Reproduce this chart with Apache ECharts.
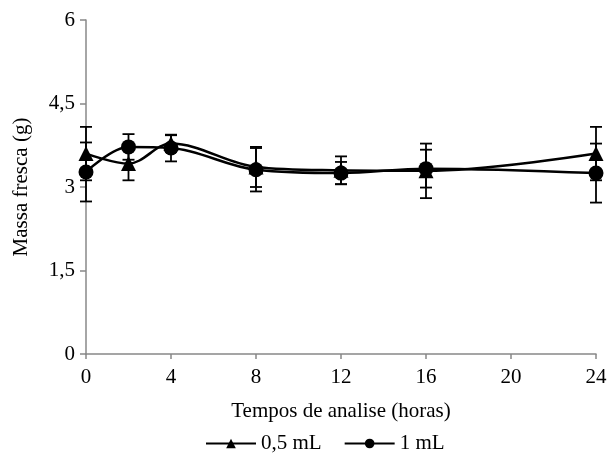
<!DOCTYPE html>
<html>
<head>
<meta charset="utf-8">
<script src="https://cdn.jsdelivr.net/npm/echarts@6/dist/echarts.min.js"></script>
<style>
  html, body { margin: 0; padding: 0; background: #fff; }
  #main { width: 610px; height: 461px; }
</style>
</head>
<body>
<div id="main"></div>
<script>
// tempos de analise (horas)
var tempos = [0, 2, 4, 8, 12, 16, 24];

// 0,5 mL (triangulo)
var massa05 = [3.60, 3.42, 3.78, 3.36, 3.30, 3.29, 3.60];
var erro05 = [0.48, 0.30, 0.15, 0.36, 0.25, 0.49, 0.48];

// 1 mL (circulo)
var massa1 = [3.27, 3.72, 3.70, 3.31, 3.25, 3.33, 3.25];
var erro1 = [0.53, 0.23, 0.24, 0.39, 0.20, 0.34, 0.53];

var nomes = ['0,5 mL', '1 mL'];
var fonte = 'Liberation Serif';
var tam = 21;

function pares(ys) {
	return tempos.map(function (t, i) { return [t, ys[i]]; });
}

function barras(ys, es) {
	return tempos.map(function (t, i) { return [t, ys[i] - es[i], ys[i] + es[i]]; });
}

// desenha a barra de erro com os "chapeus"
function desenhaErro(params, api) {
	var x = api.value(0);
	var baixo = api.coord([x, api.value(1)]);
	var cima = api.coord([x, api.value(2)]);
	var meio = 6;
	var estilo = { stroke: '#000', lineWidth: 1.8 };
	return {
		type: 'group',
		children: [
			{ type: 'line', shape: { x1: cima[0], y1: cima[1], x2: baixo[0], y2: baixo[1] }, style: estilo },
			{ type: 'line', shape: { x1: cima[0] - meio, y1: cima[1], x2: cima[0] + meio, y2: cima[1] }, style: estilo },
			{ type: 'line', shape: { x1: baixo[0] - meio, y1: baixo[1], x2: baixo[0] + meio, y2: baixo[1] }, style: estilo }
		]
	};
}

var myChart = echarts.init(document.getElementById('main'));

myChart.setOption({
	animation: false,
	textStyle: { fontFamily: fonte, color: '#000' },
	grid: { left: 86, right: 14, top: 20, bottom: 107 },
	legend: {
		bottom: 2,
		left: 200,
		itemWidth: 50,
		itemHeight: 12,
		itemGap: 22,
		textStyle: { fontFamily: fonte, fontSize: tam, color: '#000' },
		data: nomes
	},
	xAxis: {
		type: 'value',
		min: 0,
		max: 24,
		interval: 4,
		name: 'Tempos de analise (horas)',
		nameLocation: 'middle',
		nameGap: 47,
		nameTextStyle: { fontFamily: fonte, fontSize: tam, color: '#000' },
		axisLine: { lineStyle: { color: '#888', width: 1.5 } },
		axisTick: { show: true, length: 5, lineStyle: { color: '#888', width: 1.5 } },
		axisLabel: { fontFamily: fonte, fontSize: tam, color: '#000', margin: 13 },
		splitLine: { show: false }
	},
	yAxis: {
		type: 'value',
		min: 0,
		max: 6,
		interval: 1.5,
		name: 'Massa fresca (g)',
		nameLocation: 'middle',
		nameGap: 54,
		nameTextStyle: { fontFamily: fonte, fontSize: tam, color: '#000' },
		axisLine: { show: true, lineStyle: { color: '#888', width: 1.5 } },
		axisTick: { show: true, length: 6, lineStyle: { color: '#888', width: 1.5 } },
		axisLabel: {
			fontFamily: fonte, fontSize: tam, color: '#000', margin: 11,
			formatter: function (v) { return String(v).replace('.', ','); }
		},
		splitLine: { show: false }
	},
	series: [
		{
			name: nomes[0] + ' erro',
			type: 'custom',
			renderItem: desenhaErro,
			data: barras(massa05, erro05),
			z: 1
		},
		{
			name: nomes[1] + ' erro',
			type: 'custom',
			renderItem: desenhaErro,
			data: barras(massa1, erro1),
			z: 1
		},
		{
			name: nomes[0],
			type: 'line',
			smooth: 0.35,
			symbol: 'triangle',
			symbolSize: 15,
			itemStyle: { color: '#000' },
			lineStyle: { color: '#000', width: 2.5 },
			data: pares(massa05),
			z: 2
		},
		{
			name: nomes[1],
			type: 'line',
			smooth: 0.35,
			symbol: 'circle',
			symbolSize: 15,
			itemStyle: { color: '#000' },
			lineStyle: { color: '#000', width: 2.5 },
			data: pares(massa1),
			z: 3
		}
	]
});
</script>
</body>
</html>
